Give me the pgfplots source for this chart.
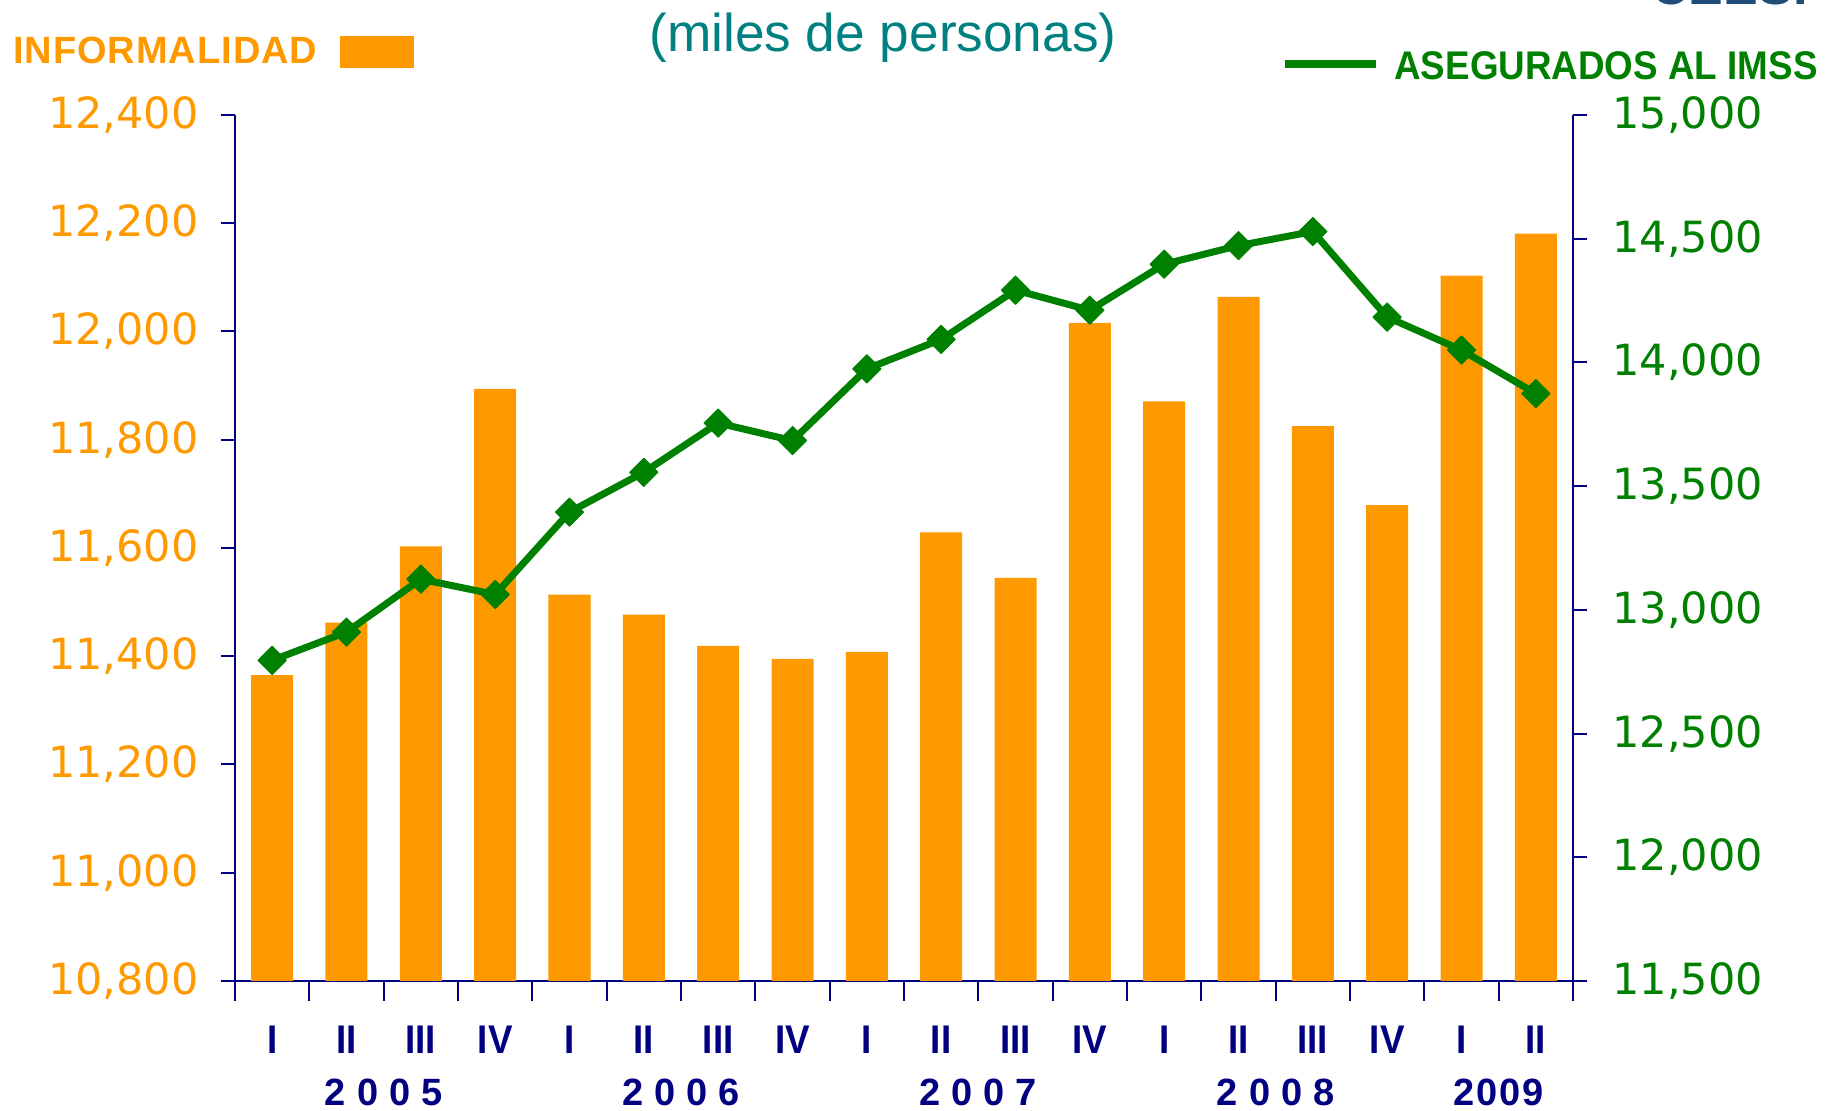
\documentclass[border=0pt]{standalone}
\usepackage{pgfplots}
\pgfplotsset{compat=1.18}
\usepackage{fontspec}
\setmainfont{Liberation Sans}
\newfontfamily\dejavu{DejaVu Sans}
\newfontfamily\narrowsans[FakeStretch=0.92]{Liberation Sans}
\newfontfamily\spacedsans[LetterSpace=2.5]{Liberation Sans}

\definecolor{barorange}{HTML}{FF9900}
\definecolor{linegreen}{HTML}{008000}
\definecolor{axisnavy}{HTML}{000080}
\definecolor{titleteal}{HTML}{008080}
\definecolor{logoblue}{HTML}{1F4E79}

\pgfplotsset{
  common/.style={
    scale only axis, width=669pt, height=433pt,
    xmin=-0.5, xmax=17.5,
    axis line style={axisnavy, line width=1pt},
    tick align=outside,
    major tick length=7pt,
    scaled y ticks=false,
    /pgf/number format/1000 sep={,},
    /pgf/number format/assume math mode=true,
  },
}

\begin{document}
\begin{tikzpicture}
\useasboundingbox (-117.5pt,-65pt) rectangle (804pt,490.5pt);

% bars: informalidad (left axis)
\begin{axis}[common,
  ymin=10800, ymax=12400,
  ytick={10800,11000,...,12400},
  axis y line*=left, axis x line*=bottom,
  ytick style={axisnavy, line width=1pt},
  yticklabel style={font=\fontsize{21.5}{24}\selectfont\dejavu, text=barorange, inner sep=0pt, xshift=-11pt},
  xtick={0,...,17},
  xticklabels={I,II,III,IV,I,II,III,IV,I,II,III,IV,I,II,III,IV,I,II},
  minor xtick={-0.5,0.5,...,17.5},
  major x tick style={draw=none},
  minor x tick style={axisnavy, line width=1pt},
  minor tick length=10pt,
  xticklabel style={font=\fontsize{20}{20}\selectfont\narrowsans\bfseries, text=axisnavy, anchor=base, yshift=-29.5pt},
  extra x ticks={1.5,5.5,9.5,13.5,16.5},
  extra x tick labels={2\hspace{5.5pt}0\hspace{5.5pt}0\hspace{5.5pt}5,2\hspace{5.5pt}0\hspace{5.5pt}0\hspace{5.5pt}6,2\hspace{5.5pt}0\hspace{5.5pt}0\hspace{5.5pt}7,2\hspace{5.5pt}0\hspace{5.5pt}0\hspace{5.5pt}8,2\hspace{1pt}0\hspace{1pt}0\hspace{1pt}9},
  extra x tick style={major x tick style={draw=none},
    xticklabel style={font=\fontsize{19}{19}\selectfont\bfseries, text=axisnavy, anchor=base, yshift=-26pt}},
]
\addplot[ybar, bar width=21pt, fill=barorange, draw=none] coordinates {
  (0,11365) (1,11462) (2,11603) (3,11894) (4,11514) (5,11477)
  (6,11419) (7,11395) (8,11408) (9,11629) (10,11545) (11,12016)
  (12,11871) (13,12064) (14,11825) (15,11679) (16,12103) (17,12181)
};
\end{axis}

% line: asegurados al IMSS (right axis)
\begin{axis}[common,
  ymin=11500, ymax=15000,
  ytick={11500,12000,...,15000},
  axis y line*=right, axis x line=none,
  ytick style={axisnavy, line width=1pt},
  yticklabel style={font=\fontsize{21.5}{24}\selectfont\dejavu, text=linegreen, inner sep=0pt, xshift=12.5pt},
]
\addplot[linegreen, line width=3.5pt, line join=round, mark=square*,
  mark size=5pt, mark options={rotate=45, solid, line width=0.5pt}] coordinates {
  (0,12796) (1,12910) (2,13124) (3,13062) (4,13395) (5,13556)
  (6,13755) (7,13684) (8,13974) (9,14093) (10,14292) (11,14211)
  (12,14397) (13,14472) (14,14529) (15,14183) (16,14050) (17,13874)
};
\end{axis}

% title, legends and logo
\node[anchor=base, text=titleteal, font=\fontsize{26.6}{30}\selectfont] at (324pt,464.5pt) {(miles de personas)};
\node[anchor=base west, inner sep=0pt, text=barorange, font=\fontsize{19}{20}\selectfont\spacedsans\bfseries] at (-111pt,458.5pt) {INFORMALIDAD};
\fill[barorange] (52.5pt,456.5pt) rectangle (89.5pt,472.5pt);
\draw[linegreen, line width=4pt] (525pt,458.5pt) -- (570.5pt,458.5pt);
\node[anchor=base west, inner sep=0pt, text=linegreen, font=\fontsize{20}{20}\selectfont\narrowsans\bfseries] at (579.5pt,450.5pt) {ASEGURADOS AL IMSS};
\node[anchor=base west, inner sep=0pt, text=logoblue, font=\fontsize{26}{26}\selectfont\bfseries] at (708pt,488pt) {CEESP};
\end{tikzpicture}
\end{document}
